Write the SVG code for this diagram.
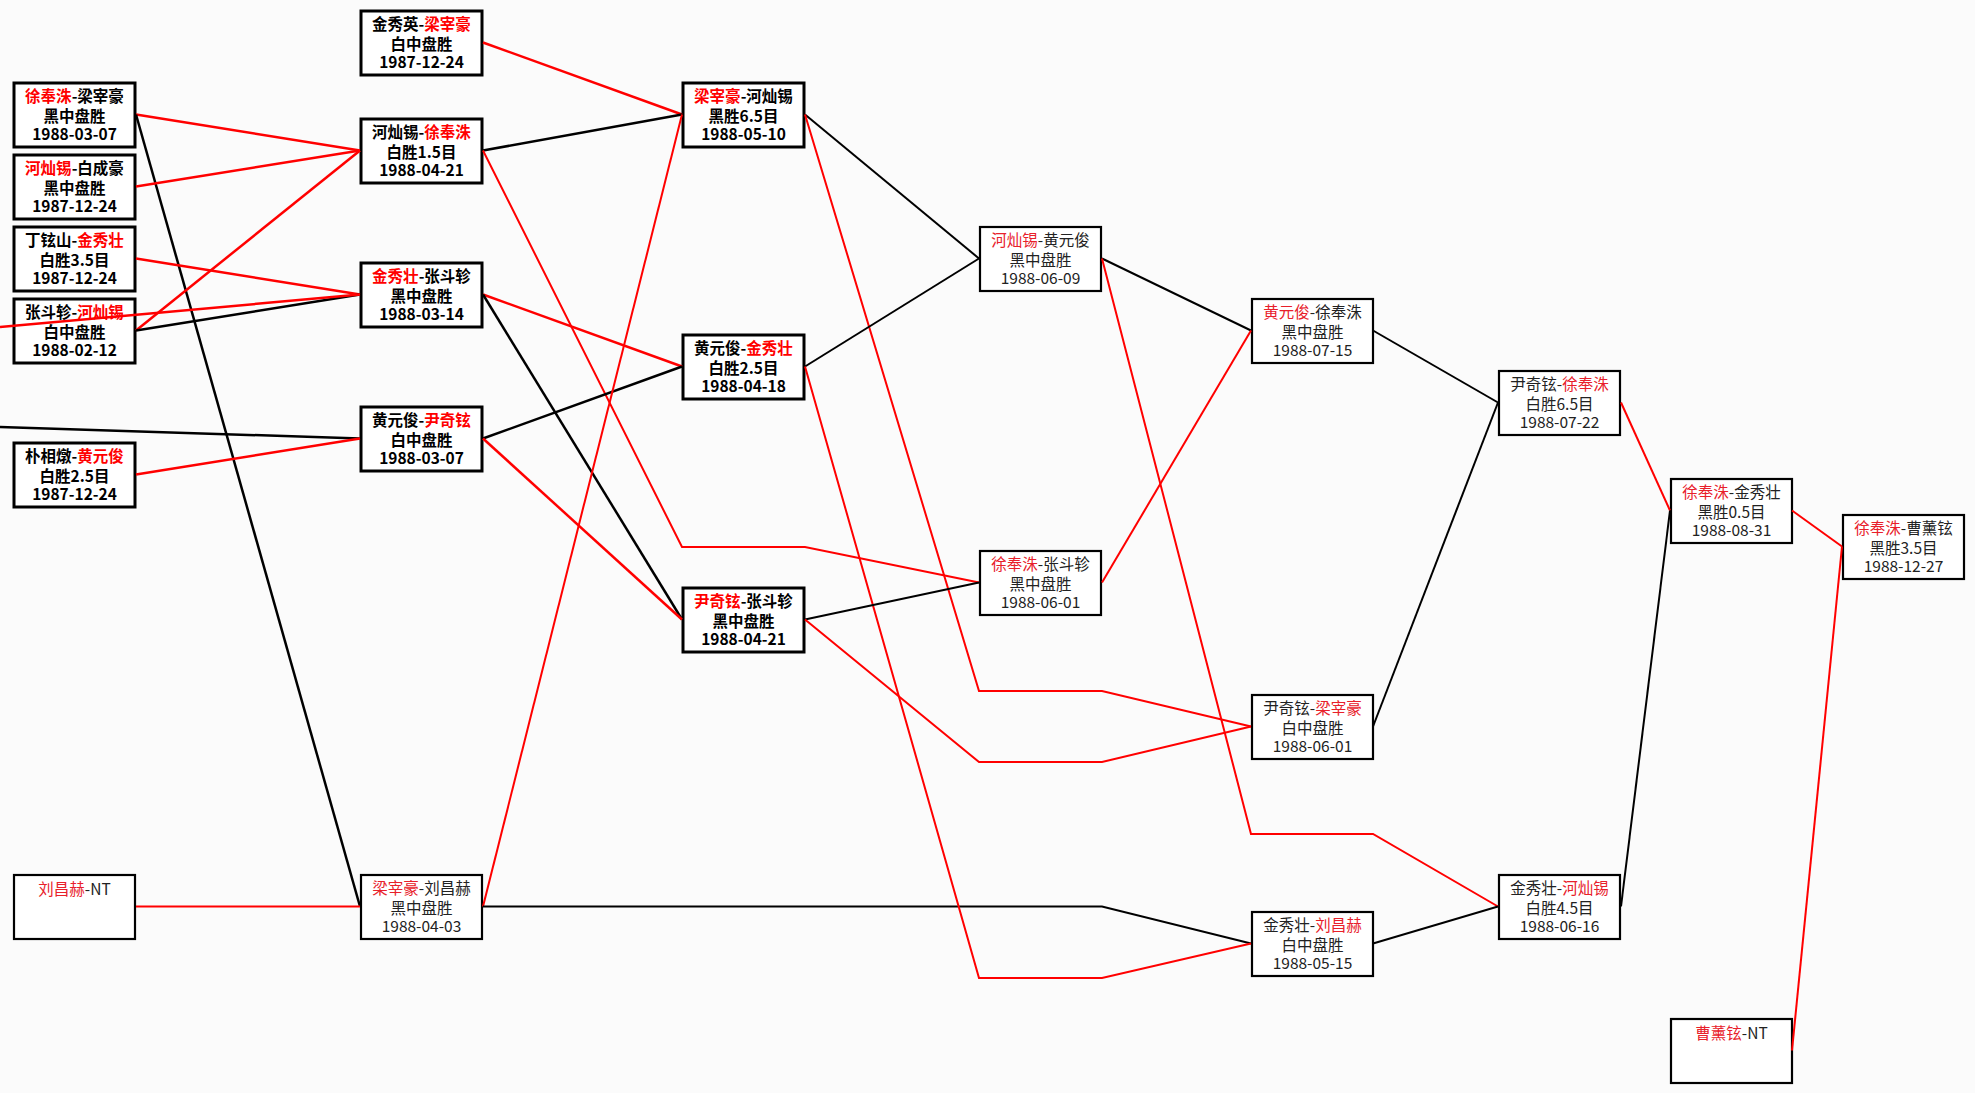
<svg xmlns="http://www.w3.org/2000/svg" width="1975" height="1093" viewBox="0 0 1975 1093">
<style>
.bg{fill:#fbfbfb}
.n rect{fill:#fff;stroke:#000;stroke-width:3}
.n.t rect{stroke-width:2.2}
text{font-family:"Noto Sans CJK SC","Noto Sans CJK TC",sans-serif;font-size:15.5px;text-anchor:middle;fill:#000}
.n.b text{font-weight:bold}
.n.t text{fill:#222}
.r{fill:#f00}
.n.t .r{fill:#e8202a}
.c polyline{fill:none;stroke-width:2;stroke-linejoin:miter}
.c .h{stroke-width:2.5}
.c .w{stroke:#f00}
.c .k{stroke:#000}
</style>
<rect class="bg" x="0" y="0" width="1975" height="1093"/>

<g id="A1" class="n b"><rect x="14" y="83" width="121" height="64"/><text x="74.5" y="102"><tspan class="r">徐奉洙</tspan>-梁宰豪</text><text x="74.5" y="122">黑中盘胜</text><text x="74.5" y="140">1988-03-07</text></g>
<g id="A2" class="n b"><rect x="14" y="155" width="121" height="64"/><text x="74.5" y="174"><tspan class="r">河灿锡</tspan>-白成豪</text><text x="74.5" y="194">黑中盘胜</text><text x="74.5" y="212">1987-12-24</text></g>
<g id="A3" class="n b"><rect x="14" y="227" width="121" height="64"/><text x="74.5" y="246">丁铉山-<tspan class="r">金秀壮</tspan></text><text x="74.5" y="266">白胜3.5目</text><text x="74.5" y="284">1987-12-24</text></g>
<g id="A4" class="n b"><rect x="14" y="299" width="121" height="64"/><text x="74.5" y="318">张斗轸-<tspan class="r">河灿锡</tspan></text><text x="74.5" y="338">白中盘胜</text><text x="74.5" y="356">1988-02-12</text></g>
<g id="A5" class="n b"><rect x="14" y="443" width="121" height="64"/><text x="74.5" y="462">朴相燉-<tspan class="r">黄元俊</tspan></text><text x="74.5" y="482">白胜2.5目</text><text x="74.5" y="500">1987-12-24</text></g>
<g id="A6" class="n t"><rect x="14" y="875" width="121" height="64"/><text x="74.5" y="895"><tspan class="r">刘昌赫</tspan>-NT</text></g>

<g id="B1" class="n b"><rect x="361" y="11" width="121" height="64"/><text x="421.5" y="30">金秀英-<tspan class="r">梁宰豪</tspan></text><text x="421.5" y="50">白中盘胜</text><text x="421.5" y="68">1987-12-24</text></g>
<g id="B2" class="n b"><rect x="361" y="119" width="121" height="64"/><text x="421.5" y="138">河灿锡-<tspan class="r">徐奉洙</tspan></text><text x="421.5" y="158">白胜1.5目</text><text x="421.5" y="176">1988-04-21</text></g>
<g id="B3" class="n b"><rect x="361" y="263" width="121" height="64"/><text x="421.5" y="282"><tspan class="r">金秀壮</tspan>-张斗轸</text><text x="421.5" y="302">黑中盘胜</text><text x="421.5" y="320">1988-03-14</text></g>
<g id="B4" class="n b"><rect x="361" y="407" width="121" height="64"/><text x="421.5" y="426">黄元俊-<tspan class="r">尹奇铉</tspan></text><text x="421.5" y="446">白中盘胜</text><text x="421.5" y="464">1988-03-07</text></g>
<g id="B5" class="n t"><rect x="361" y="875" width="121" height="64"/><text x="421.5" y="894"><tspan class="r">梁宰豪</tspan>-刘昌赫</text><text x="421.5" y="914">黑中盘胜</text><text x="421.5" y="932">1988-04-03</text></g>

<g id="C1" class="n b"><rect x="683" y="83" width="121" height="64"/><text x="743.5" y="102"><tspan class="r">梁宰豪</tspan>-河灿锡</text><text x="743.5" y="122">黑胜6.5目</text><text x="743.5" y="140">1988-05-10</text></g>
<g id="C2" class="n b"><rect x="683" y="335" width="121" height="64"/><text x="743.5" y="354">黄元俊-<tspan class="r">金秀壮</tspan></text><text x="743.5" y="374">白胜2.5目</text><text x="743.5" y="392">1988-04-18</text></g>
<g id="C3" class="n b"><rect x="683" y="588" width="121" height="64"/><text x="743.5" y="607"><tspan class="r">尹奇铉</tspan>-张斗轸</text><text x="743.5" y="627">黑中盘胜</text><text x="743.5" y="645">1988-04-21</text></g>

<g id="D1" class="n t"><rect x="980" y="227" width="121" height="64"/><text x="1040.5" y="246"><tspan class="r">河灿锡</tspan>-黄元俊</text><text x="1040.5" y="266">黑中盘胜</text><text x="1040.5" y="284">1988-06-09</text></g>
<g id="D2" class="n t"><rect x="980" y="551" width="121" height="64"/><text x="1040.5" y="570"><tspan class="r">徐奉洙</tspan>-张斗轸</text><text x="1040.5" y="590">黑中盘胜</text><text x="1040.5" y="608">1988-06-01</text></g>

<g id="E1" class="n t"><rect x="1252" y="299" width="121" height="64"/><text x="1312.5" y="318"><tspan class="r">黄元俊</tspan>-徐奉洙</text><text x="1312.5" y="338">黑中盘胜</text><text x="1312.5" y="356">1988-07-15</text></g>
<g id="E2" class="n t"><rect x="1252" y="695" width="121" height="64"/><text x="1312.5" y="714">尹奇铉-<tspan class="r">梁宰豪</tspan></text><text x="1312.5" y="734">白中盘胜</text><text x="1312.5" y="752">1988-06-01</text></g>
<g id="E3" class="n t"><rect x="1252" y="912" width="121" height="64"/><text x="1312.5" y="931">金秀壮-<tspan class="r">刘昌赫</tspan></text><text x="1312.5" y="951">白中盘胜</text><text x="1312.5" y="969">1988-05-15</text></g>

<g id="F1" class="n t"><rect x="1499" y="371" width="121" height="64"/><text x="1559.5" y="390">尹奇铉-<tspan class="r">徐奉洙</tspan></text><text x="1559.5" y="410">白胜6.5目</text><text x="1559.5" y="428">1988-07-22</text></g>
<g id="F2" class="n t"><rect x="1499" y="875" width="121" height="64"/><text x="1559.5" y="894">金秀壮-<tspan class="r">河灿锡</tspan></text><text x="1559.5" y="914">白胜4.5目</text><text x="1559.5" y="932">1988-06-16</text></g>

<g id="G1" class="n t"><rect x="1671" y="479" width="121" height="64"/><text x="1731.5" y="498"><tspan class="r">徐奉洙</tspan>-金秀壮</text><text x="1731.5" y="518">黑胜0.5目</text><text x="1731.5" y="536">1988-08-31</text></g>
<g id="G2" class="n t"><rect x="1671" y="1019" width="121" height="64"/><text x="1731.5" y="1039"><tspan class="r">曹薰铉</tspan>-NT</text></g>

<g id="H1" class="n t"><rect x="1843" y="515" width="121" height="64"/><text x="1903.5" y="534"><tspan class="r">徐奉洙</tspan>-曹薰铉</text><text x="1903.5" y="554">黑胜3.5目</text><text x="1903.5" y="572">1988-12-27</text></g>

<g id="connectors" class="c">
<polyline class="w h" points="136,114.5 360,150.5"/>
<polyline class="k h" points="136,114.5 360,906.5"/>
<polyline class="w h" points="136,186.5 360,150.5"/>
<polyline class="w h" points="136,258.5 360,294.5"/>
<polyline class="w h" points="136,330.5 360,150.5"/>
<polyline class="k h" points="136,330.5 360,294.5"/>
<polyline class="w h" points="0,327 360,294.5"/>
<polyline class="k h" points="0,427 360,438.5"/>
<polyline class="w h" points="136,474.5 360,438.5"/>
<polyline class="w" points="136,906.5 360,906.5"/>

<polyline class="w h" points="483,42.5 682,114.5"/>
<polyline class="k h" points="483,150.5 682,114.5"/>
<polyline class="w" points="483,150.5 682,547 805,547 979,582.5"/>
<polyline class="w h" points="483,294.5 682,366.5"/>
<polyline class="k h" points="483,294.5 682,619.5"/>
<polyline class="k h" points="483,438.5 682,366.5"/>
<polyline class="w h" points="483,438.5 682,619.5"/>
<polyline class="w" points="483,906.5 682,114.5"/>
<polyline class="k" points="483,906.5 1102,906.5 1251,943.5"/>

<polyline class="k" points="805,114.5 979,258.5"/>
<polyline class="w" points="805,114.5 979,691 1102,691 1251,726.5"/>
<polyline class="k" points="805,366.5 979,258.5"/>
<polyline class="w" points="805,366.5 979,978 1102,978 1251,943.5"/>
<polyline class="k" points="805,619.5 979,582.5"/>
<polyline class="w" points="805,619.5 979,762 1102,762 1251,726.5"/>

<polyline class="k" points="1102,258.5 1251,330.5"/>
<polyline class="w" points="1102,258.5 1251,834 1373,834 1498,906.5"/>
<polyline class="w" points="1102,582.5 1251,330.5"/>

<polyline class="k" points="1373,330.5 1498,402.5"/>
<polyline class="k" points="1373,726.5 1498,402.5"/>
<polyline class="k" points="1373,943.5 1498,906.5"/>

<polyline class="w" points="1621,402.5 1670,510.5"/>
<polyline class="k" points="1621,906.5 1670,510.5"/>

<polyline class="w" points="1792,510.5 1842,546.5"/>
<polyline class="w" points="1792,1050.5 1842,546.5"/>
</g>
</svg>
